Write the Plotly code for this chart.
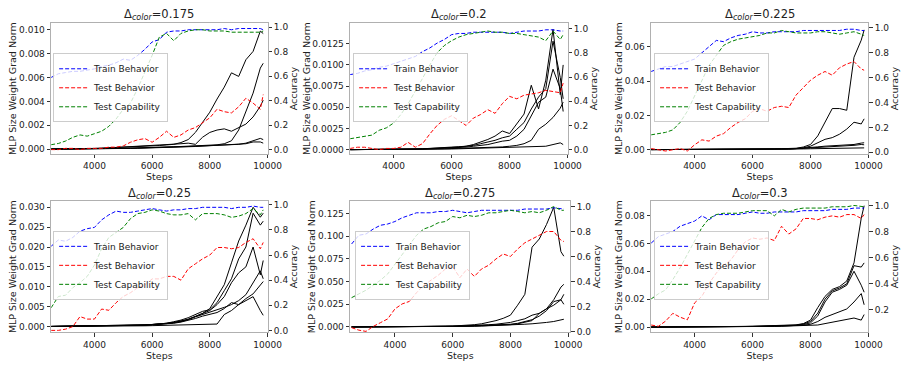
import plotly.graph_objects as go

STEPS = [2500, 2750, 3000, 3250, 3500, 3750, 4000, 4250, 4500, 4750, 5000, 5250, 5500, 5750,
         6000, 6250, 6500, 6750, 7000, 7250, 7500, 7750, 8000, 8250, 8500, 8750, 9000, 9250,
         9500, 9750, 9850]
DELTAS = ["0.175", "0.2", "0.225", "0.25", "0.275", "0.3"]
X_TICKS = [4000, 6000, 8000, 10000]
X_TICKTEXT = ["4000", "6000", "8000", "10000"]

# ---- panel 1 (0.175)
P1_TRAIN = [.59, .62, .63, .64, .64, .65, .66, .68, .69, .71, .74, .73, .77, .82, .88, .90, .96, .97, .97, .98, .98, .98, .98, .98, .99, .98, .99, .99, .99, .99, .98]
P1_TEST = [.00, .00, .01, .01, .00, .01, .01, .01, .02, .02, .03, .06, .08, .09, .06, .10, .15, .10, .12, .16, .18, .22, .26, .33, .31, .30, .35, .42, .38, .33, .45]
P1_CAP = [.04, .05, .07, .10, .12, .11, .13, .15, .19, .25, .33, .38, .50, .63, .77, .92, .95, .89, .95, .97, .98, .98, .97, .97, .97, .96, .96, .96, .96, .96, .97]
P1_GRAD = [
    [0, 0, .00002, .00003, .00004, .00005, .00006, .00008, .0001, .00012, .00015, .00018, .0002, .00022, .00025, .0003, .00035, .0004, .00055, .0008, .0014, .0022, .0031, .0042, .0052, .0064, .0061, .0075, .0082, .0099, .0097],
    [0, 0, 0, 0, .00001, .00002, .00003, .00004, .00005, .00006, .00007, .00008, .0001, .00012, .00014, .00016, .00018, .0002, .00022, .00025, .00028, .0003, .00032, .00036, .00045, .0007, .0016, .0032, .0047, .0068, .0072],
    [0, 0, 0, .00001, .00002, .00003, .00005, .00007, .0001, .00013, .00016, .0002, .00024, .00028, .0003, .00033, .00036, .0004, .00045, .0005, .0004, .0010, .0014, .0016, .0017, .0015, .0018, .0021, .0027, .0036, .0041],
    [0, 0, 0, 0, 0, .00001, .00002, .00003, .00004, .00005, .00006, .00007, .00008, .0001, .00012, .00014, .00016, .00018, .0002, .00022, .00024, .00026, .00028, .0003, .00032, .00036, .0004, .0005, .0007, .0009, .0008],
    [0, 0, 0, 0, 0, 0, .00001, .00002, .00003, .00004, .00005, .00006, .00007, .00008, .0001, .00012, .00014, .00016, .00018, .0002, .00022, .00025, .00028, .0003, .00034, .00038, .0004, .00045, .0006, .0006, .0005],
]

# ---- panel 2 (0.2)
P2_TRAIN = [.62, .63, .65, .66, .68, .69, .71, .73, .75, .77, .81, .84, .88, .91, .95, .96, .96, .97, .97, .97, .97, .97, .96, .97, .98, .98, .98, .99, .99, .98, .98]
P2_TEST = [.01, .02, .02, .01, .00, .01, .01, .02, .06, .02, .05, .13, .20, .25, .28, .24, .20, .26, .29, .33, .30, .38, .44, .42, .45, .46, .47, .49, .48, .47, .55]
P2_CAP = [.09, .10, .11, .12, .16, .18, .22, .29, .38, .48, .59, .70, .80, .86, .90, .93, .95, .96, .97, .98, .97, .97, .96, .96, .95, .94, .93, .90, .98, .91, .95]
P2_GRAD = [
    [0, 0, 0, 0, .00001, .00002, .00003, .00004, .00006, .00008, .0001, .00013, .00017, .00022, .0003, .00035, .0004, .0006, .0009, .0012, .0016, .0022, .0019, .0030, .0042, .0076, .0048, .0082, .0142, .0065, .0100],
    [0, 0, 0, 0, .00001, .00002, .00003, .00004, .00005, .00007, .00009, .00012, .00015, .0002, .00025, .0003, .0004, .0005, .0007, .0009, .0011, .0014, .0016, .0024, .0032, .0048, .0062, .0072, .0128, .0085, .0060],
    [0, 0, 0, 0, 0, .00001, .00002, .00003, .00004, .00005, .00007, .00009, .00012, .00016, .0002, .00025, .0003, .0004, .0005, .0006, .0008, .0010, .0011, .0016, .0024, .0040, .0056, .0062, .0095, .0072, .0045],
    [0, 0, 0, 0, 0, 0, .00001, .00002, .00003, .00004, .00005, .00006, .00008, .0001, .00012, .00014, .00016, .00018, .0002, .00024, .00028, .00032, .0004, .0005, .0007, .0011, .0024, .0030, .0038, .0049, .0056],
    [0, 0, 0, 0, 0, 0, 0, .00001, .00002, .00003, .00004, .00005, .00006, .00007, .00008, .0001, .00012, .00014, .00016, .00018, .0002, .00022, .00024, .00026, .00028, .0003, .00035, .0004, .0006, .0008, .0006],
]

# ---- panel 3 (0.225)
P3_TRAIN = [.65, .67, .69, .69, .71, .73, .75, .80, .85, .90, .89, .92, .94, .95, .97, .96, .96, .97, .97, .97, .97, .98, .98, .98, .98, .98, .98, .99, .99, .98, .98]
P3_TEST = [.03, .02, .01, .02, .03, .01, .06, .10, .09, .13, .15, .20, .24, .27, .33, .35, .33, .36, .37, .36, .46, .52, .58, .62, .65, .62, .68, .71, .73, .67, .66]
P3_CAP = [.14, .15, .16, .18, .24, .33, .45, .57, .70, .78, .86, .89, .91, .92, .93, .94, .96, .96, .98, .97, .96, .96, .96, .97, .97, .96, .95, .96, .97, .95, .94]
P3_GRAD = [
    [0, 0, 0, 0, 0, 0, 0, 0, .0001, .0001, .0001, .0002, .0002, .0002, .0003, .0003, .0004, .0004, .0005, .0006, .0008, .0015, .0030, .0080, .0160, .0240, .0240, .0230, .0540, .0640, .0700],
    [0, 0, 0, 0, 0, 0, 0, 0, 0, 0, .0001, .0001, .0001, .0001, .0002, .0002, .0002, .0003, .0003, .0004, .0006, .0010, .0020, .0040, .0060, .0070, .0090, .0120, .0160, .0150, .0180],
    [0, 0, 0, 0, 0, 0, 0, 0, 0, 0, 0, .0001, .0001, .0001, .0001, .0002, .0002, .0002, .0003, .0004, .0006, .0008, .0012, .0016, .0020, .0022, .0025, .0028, .0030, .0038, .0040],
    [0, 0, 0, 0, 0, 0, 0, 0, 0, 0, 0, 0, .0001, .0001, .0001, .0001, .0002, .0002, .0002, .0003, .0005, .0007, .0010, .0012, .0015, .0018, .0020, .0022, .0025, .0030, .0028],
    [0, 0, 0, 0, 0, 0, 0, 0, 0, 0, 0, 0, 0, 0, .0001, .0001, .0001, .0001, .0002, .0002, .0003, .0004, .0005, .0006, .0006, .0007, .0008, .0008, .0009, .0010, .0010],
]

# ---- panel 4 (0.25)
P4_TRAIN = [.67, .72, .71, .74, .79, .81, .82, .88, .92, .95, .94, .94, .95, .96, .97, .96, .95, .96, .96, .97, .97, .98, .98, .98, .98, .97, .98, .98, .99, .98, .98]
P4_TEST = [.00, .00, .01, .03, .11, .09, .09, .17, .16, .22, .27, .30, .34, .36, .41, .41, .43, .43, .40, .49, .53, .57, .60, .66, .66, .65, .66, .70, .73, .65, .70]
P4_CAP = [.18, .27, .28, .34, .38, .43, .52, .65, .74, .78, .82, .89, .93, .94, .96, .95, .93, .92, .92, .93, .88, .93, .93, .93, .92, .90, .91, .93, .97, .92, .96]
P4_GRAD = [
    [0, .00002, .00004, .00006, .00008, .0001, .00012, .00015, .00018, .0002, .00025, .0003, .00035, .0004, .0005, .0006, .0008, .0010, .0014, .0018, .0025, .0033, .0045, .0075, .0105, .0160, .0215, .0255, .0300, .0275, .0285],
    [0, .00002, .00003, .00005, .00007, .00009, .00011, .00013, .00016, .0002, .00024, .00028, .00033, .0004, .00048, .0006, .0008, .0012, .0016, .0022, .0030, .0038, .0042, .0060, .0090, .0120, .0170, .0200, .0285, .0255, .0265],
    [0, .00001, .00002, .00004, .00006, .00008, .0001, .00012, .00014, .00017, .0002, .00024, .00028, .00033, .0004, .0005, .0007, .0010, .0013, .0018, .0025, .0032, .0040, .0055, .0075, .0110, .0135, .0150, .0200, .0130, .0166],
    [0, 0, 0, .00001, .00002, .00003, .00004, .00005, .00006, .00008, .0001, .00012, .00014, .00016, .0002, .00024, .00028, .00032, .00036, .0004, .0004, .0005, .0005, .0006, .0030, .0040, .0055, .0070, .0082, .0105, .0113],
    [0, .00001, .00002, .00003, .00004, .00006, .00008, .0001, .00012, .00015, .00018, .00022, .00026, .0003, .0004, .0005, .0006, .0008, .0011, .0015, .0020, .0026, .0030, .0035, .0045, .0060, .0055, .0065, .0075, .0040, .0028],
    [0, .00001, .00002, .00003, .00005, .00007, .00009, .00011, .00014, .00017, .0002, .00025, .0003, .00036, .00045, .00055, .0007, .0009, .0012, .0017, .0024, .0030, .0035, .0042, .0048, .0055, .0065, .0080, .0110, .0140, .0120],
]

# ---- panel 5 (0.275)
P5_TRAIN = [.70, .77, .78, .82, .85, .86, .88, .91, .93, .95, .95, .95, .96, .96, .97, .96, .95, .96, .97, .97, .97, .97, .97, .97, .98, .98, .98, .98, .99, .98, .98]
P5_TEST = [.03, .01, .00, .04, .07, .10, .18, .22, .24, .31, .37, .41, .45, .50, .52, .43, .50, .44, .50, .53, .58, .62, .60, .66, .71, .74, .77, .80, .80, .73, .72]
P5_CAP = [.27, .30, .33, .37, .41, .46, .54, .62, .70, .77, .82, .84, .87, .88, .92, .91, .93, .92, .93, .95, .95, .96, .97, .96, .95, .96, .95, .97, 1.0, .97, .97]
P5_GRAD = [
    [0, 0, 0, .00005, .0001, .00015, .0002, .00025, .0003, .0004, .0005, .0006, .0007, .0008, .0010, .0013, .0017, .0025, .0035, .0050, .0070, .0095, .0130, .0240, .0360, .0880, .0970, .1130, .1320, .0830, .0780],
    [0, 0, 0, 0, .00005, .0001, .00015, .0002, .00025, .0003, .0004, .0005, .0006, .0007, .0008, .0010, .0012, .0015, .0020, .0025, .0030, .0040, .0050, .0070, .0090, .0130, .0150, .0200, .0300, .0440, .0470],
    [0, 0, 0, 0, 0, .00005, .0001, .00015, .0002, .00025, .0003, .0004, .0005, .0006, .0007, .0008, .0010, .0012, .0015, .0020, .0024, .0028, .0030, .0040, .0060, .0080, .0120, .0180, .0280, .0300, .0360],
    [0, 0, 0, 0, 0, 0, .00005, .0001, .00015, .0002, .00025, .0003, .0004, .0005, .0006, .0007, .0008, .0010, .0012, .0015, .0018, .0022, .0025, .0035, .0050, .0070, .0150, .0200, .0240, .0300, .0250],
    [0, 0, 0, 0, 0, 0, 0, .00005, .0001, .00015, .0002, .00025, .0003, .0004, .0005, .0006, .0007, .0008, .0010, .0012, .0014, .0017, .0020, .0025, .0030, .0035, .0040, .0050, .0060, .0080, .0085],
]

# ---- panel 6 (0.3)
P6_TRAIN = [.71, .76, .78, .80, .84, .86, .88, .92, .89, .93, .93, .93, .93, .94, .95, .94, .94, .95, .95, .95, .95, .96, .96, .96, .96, .97, .97, .97, .98, .98, .98]
P6_TEST = [.08, .07, .11, .17, .14, .12, .25, .30, .40, .48, .54, .58, .66, .72, .75, .74, .75, .73, .84, .78, .82, .90, .90, .89, .91, .92, .91, .93, .93, .90, .93]
P6_CAP = [.28, .32, .35, .43, .52, .62, .72, .83, .90, .93, .94, .94, .94, .95, .96, .96, .96, .92, .97, .95, .97, .98, .98, .98, .98, .99, .99, .99, 1.0, .99, .99]
P6_GRAD = [
    [0, 0, 0, 0, 0, .00005, .0001, .00015, .0002, .00025, .0003, .00035, .0004, .0005, .0006, .0007, .0008, .0009, .0010, .0012, .0016, .0025, .0050, .0140, .0220, .0270, .0290, .0330, .0460, .0780, .0870],
    [0, 0, 0, 0, 0, .00005, .0001, .00012, .00015, .0002, .00025, .0003, .00035, .0004, .0005, .0006, .0007, .0008, .0009, .0010, .0014, .0022, .0040, .0100, .0200, .0260, .0280, .0310, .0440, .0430, .0460],
    [0, 0, 0, 0, 0, 0, .00005, .0001, .00012, .00015, .0002, .00025, .0003, .00035, .0004, .0005, .0006, .0007, .0008, .0009, .0012, .0018, .0030, .0080, .0180, .0250, .0270, .0300, .0400, .0300, .0250],
    [0, 0, 0, 0, 0, 0, 0, .00005, .0001, .00012, .00015, .0002, .00025, .0003, .00035, .0004, .0005, .0006, .0007, .0008, .0010, .0014, .0020, .0040, .0070, .0090, .0110, .0130, .0180, .0240, .0160],
    [0, 0, 0, 0, 0, 0, 0, 0, .00005, .0001, .00012, .00015, .0002, .00025, .0003, .00035, .0004, .0005, .0006, .0007, .0008, .0009, .0010, .0015, .0025, .0035, .0045, .0055, .0065, .0050, .0090],
]

PANELS = [
    (P1_TRAIN, P1_TEST, P1_CAP, P1_GRAD),
    (P2_TRAIN, P2_TEST, P2_CAP, P2_GRAD),
    (P3_TRAIN, P3_TEST, P3_CAP, P3_GRAD),
    (P4_TRAIN, P4_TEST, P4_CAP, P4_GRAD),
    (P5_TRAIN, P5_TEST, P5_CAP, P5_GRAD),
    (P6_TRAIN, P6_TEST, P6_CAP, P6_GRAD),
]

W, H = 913, 365
FONT = "DejaVu Sans"
TXT = "#222222"
FRAME = "#b0b0b0"

# layout geometry (pixels)
X_DOM = [(52, 272), (356, 577), (662, 883), (52, 272), (356, 580), (662, 883)]
Y_DOM = [(22.7, 155), (22.7, 155), (22.7, 155), (202.7, 336), (202.7, 336), (202.7, 336)]
X_RANGE = [(2500, 10000)] * 4 + [(2450, 10080), (2500, 10000)]
YL_RANGE = [(-0.0004, 0.01055), (-0.0005, 0.0149), (-0.0025, 0.0738),
            (-0.0015, 0.0316), (-0.006, 0.139), (-0.0038, 0.0904)]
YL_DTICK = [0.002, 0.0025, 0.02, 0.005, 0.025, 0.02]
YL_FMT = [".3f", ".4f", ".2f", ".3f", ".3f", ".2f"]
YR_RANGE = [(-0.035, 1.032), (-0.035, 1.043), (-0.013, 1.037),
            (-0.016, 1.031), (-0.008, 1.045), (0.023, 1.035)]
LEG_POS = [(54, 88), (359, 88), (665, 88), (54, 268), (361, 268), (665, 268)]
TITLE_Y = [14, 14, 14, 195, 195, 195]

SERIES = [("Train Behavior", "#0000ff"), ("Test Behavior", "#ff0000"), ("Test Capability", "#008000")]

fig = go.Figure()
layout = dict(
    width=W, height=H, autosize=False,
    margin=dict(l=0, r=0, t=0, b=0, pad=0),
    paper_bgcolor="white", plot_bgcolor="white",
    font=dict(family=FONT, size=9.5, color=TXT),
    annotations=[],
)

for i, (train, test, cap, grads) in enumerate(PANELS):
    k = i + 1
    xa = "x" if k == 1 else f"x{k}"
    yl = "y" if k == 1 else f"y{k}"
    yr = f"y{k + 6}"
    leg = "legend" if k == 1 else f"legend{k}"

    for g in grads:
        fig.add_trace(go.Scatter(x=STEPS, y=g, mode="lines",
                                 line=dict(color="black", width=1),
                                 xaxis=xa, yaxis=yl, showlegend=False, hoverinfo="skip"))
    for (name, col), vals in zip(SERIES, (train, test, cap)):
        fig.add_trace(go.Scatter(x=STEPS, y=vals, mode="lines", name=name,
                                 line=dict(color=col, width=1, dash="4px,2px"),
                                 xaxis=xa, yaxis=yr, legend=leg))

    xd = X_DOM[i]
    yd = Y_DOM[i]
    axis_common = dict(showgrid=False, zeroline=False, ticks="outside", ticklen=3.5,
                       tickwidth=1, tickcolor="#333333", showline=True, linecolor=FRAME,
                       linewidth=1, tickfont=dict(size=9, color=TXT))
    layout["xaxis" if k == 1 else f"xaxis{k}"] = dict(
        axis_common, domain=[xd[0] / W, xd[1] / W], anchor=yl, range=list(X_RANGE[i]),
        tickvals=X_TICKS, ticktext=X_TICKTEXT, mirror=True,
        title=dict(text="Steps", font=dict(size=9.5), standoff=2))
    layout["yaxis" if k == 1 else f"yaxis{k}"] = dict(
        axis_common, domain=[1 - yd[1] / H, 1 - yd[0] / H], anchor=xa,
        range=list(YL_RANGE[i]), tick0=0, dtick=YL_DTICK[i], tickformat=YL_FMT[i],
        mirror=True,
        title=dict(text="MLP Size Weight Grad Norm", font=dict(size=9.5), standoff=0))
    layout[f"yaxis{k + 6}"] = dict(
        axis_common, overlaying=yl, side="right", anchor=xa,
        range=list(YR_RANGE[i]), tick0=0, dtick=0.2, tickformat=".1f",
        title=dict(text="Accuracy", font=dict(size=9.5), standoff=0))
    lp = LEG_POS[i]
    layout[leg] = dict(x=lp[0] / W, y=1 - lp[1] / H, xanchor="left", yanchor="middle",
                       bgcolor="rgba(255,255,255,0.8)", bordercolor="#cccccc", borderwidth=1,
                       font=dict(size=9, family=FONT, color=TXT), itemwidth=30,
                       tracegroupgap=0)
    layout["annotations"].append(dict(
        text=f"Δ<sub><i>color</i></sub>={DELTAS[i]}", xref="paper", yref="paper",
        x=(xd[0] + xd[1]) / 2 / W, y=1 - TITLE_Y[i] / H, xanchor="center", yanchor="middle",
        showarrow=False, font=dict(size=11.5, family=FONT, color=TXT)))

fig.update_layout(**layout)
fig.write_html("out.html")
